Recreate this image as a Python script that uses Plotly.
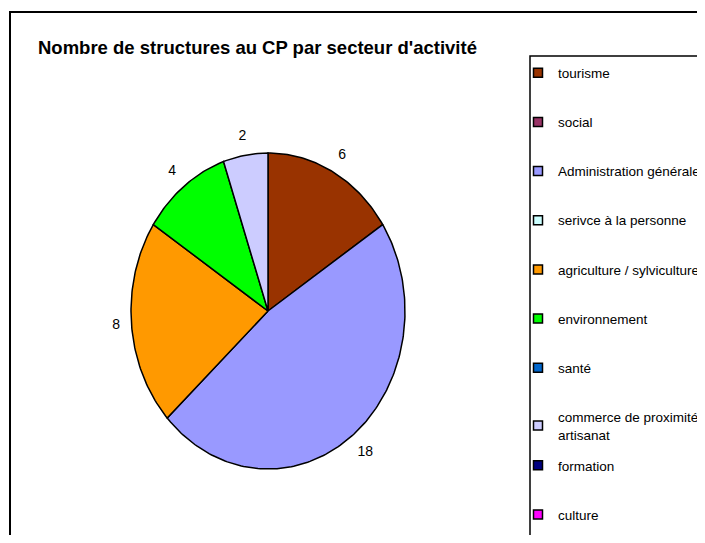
import math
import plotly.graph_objects as go

# ---- data ----
categories = [
    "tourisme",
    "social",
    "Administration générale",
    "serivce à la personne",
    "agriculture / sylviculture",
    "environnement",
    "santé",
    "commerce de proximité<br>artisanat",
    "formation",
    "culture",
]
values = [6, 0, 18, 0, 8, 4, 0, 2, 0, 0]
colors = ["#993300", "#993366", "#9999FF", "#CCFFFF", "#FF9900",
          "#00FF00", "#0066CC", "#CCCCFF", "#000080", "#FF00FF"]
title_text = "Nombre de structures au CP par secteur d'activité"

# ---- layout constants (screen pixels; page body has an 8px margin) ----
W, H = 697, 527
M = 8
def px(X):
    return (X - M) / W
def py(Y):
    return 1 - (Y - M) / H

CX, CY = 268, 311        # pie centre
RX, RY = 137, 158        # pie radii (elliptical pie)
PAD = 1.3                # axis range half-width in pie units
FONT = "Liberation Sans, Arial, sans-serif"

xd = [px(CX - RX * PAD), px(CX + RX * PAD)]
yd = [py(CY + RY * PAD), py(CY - RY * PAD)]

fig = go.Figure()

total = sum(values)
start = 0.0
mids = []
for name, v, c in zip(categories, values, colors):
    span = 360.0 * v / total
    if v > 0:
        n = max(2, int(span) + 1)
        angs = [start + span * i / (n - 1) for i in range(n)]
        xs = [0] + [math.sin(math.radians(a)) for a in angs] + [0]
        ys = [0] + [math.cos(math.radians(a)) for a in angs] + [0]
        fig.add_trace(go.Scatter(
            x=xs, y=ys, mode="lines", fill="toself", fillcolor=c,
            line=dict(color="black", width=1.5), showlegend=False,
            hoverinfo="skip"))
        mids.append((start + span / 2, v))
    start += span

# value labels outside the pie (gap plus half the label box along the radius)
lx, ly, lt = [], [], []
for a, v in mids:
    s, co = math.sin(math.radians(a)), math.cos(math.radians(a))
    t = str(v)
    off = 11 + abs(s) * 3.9 * len(t) + abs(co) * 7
    lx.append(s + off * s / RX)
    ly.append(co + off * co / RY)
    lt.append(t)
fig.add_trace(go.Scatter(
    x=lx, y=ly, mode="text", text=lt, cliponaxis=False,
    textfont=dict(family=FONT, size=14, color="black"),
    showlegend=False, hoverinfo="skip"))

# legend entries
for i, (name, c) in enumerate(zip(categories, colors)):
    fig.add_trace(go.Scatter(
        x=[None], y=[None], mode="markers", name=name,
        marker=dict(symbol="square", size=9, color=c,
                    line=dict(color="black", width=1.5)),
        legendgroup=f"g{i}",
        legend="legend" if i < 8 else "legend2"))

leg_common = dict(
    font=dict(family=FONT, size=13.5, color="black"),
    bgcolor="rgba(0,0,0,0)", borderwidth=0,
    tracegroupgap=28.6, itemwidth=30, xanchor="left", yanchor="top",
)
fig.update_layout(
    width=W, height=H,
    margin=dict(l=0, r=0, t=0, b=0),
    paper_bgcolor="white", plot_bgcolor="white",
    xaxis=dict(domain=xd, range=[-PAD, PAD], visible=False),
    yaxis=dict(domain=yd, range=[-PAD, PAD], visible=False),
    title=dict(text=title_text, x=px(38), xanchor="left",
               y=py(48), yanchor="middle",
               font=dict(family=FONT, size=18.5, color="black", weight="bold")),
    legend=dict(x=px(518), y=py(57.5), **leg_common),
    legend2=dict(x=px(518), y=py(450), **leg_common),
    shapes=[
        dict(type="rect", xref="paper", yref="paper",
             x0=px(10), x1=1.05, y0=-0.05, y1=py(12),
             line=dict(color="black", width=2), fillcolor="rgba(0,0,0,0)"),
        dict(type="rect", xref="paper", yref="paper",
             x0=px(530), x1=1.05, y0=-0.05, y1=py(56),
             line=dict(color="black", width=1.5), fillcolor="rgba(0,0,0,0)"),
    ],
    showlegend=True,
)

fig.write_html("out.html")
